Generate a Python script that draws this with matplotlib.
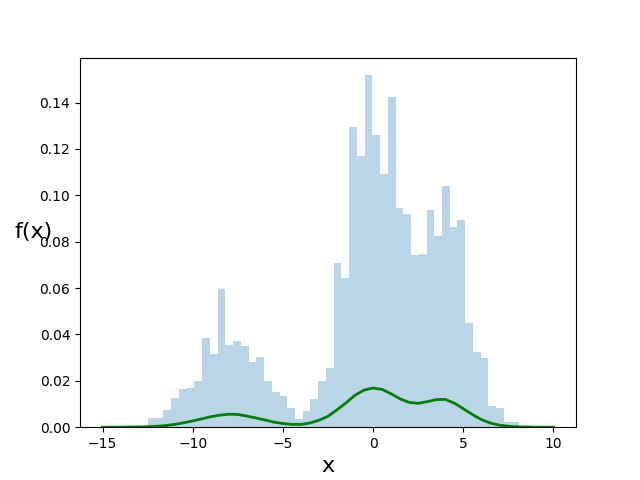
import numpy as np
import matplotlib
matplotlib.use("Agg")
import matplotlib.pyplot as plt


# Высоты столбцов гистограммы (плотность), 48 интервалов от -12.48 до 8.11
bin_lo = -12.48
bin_hi = 8.11
hist_heights = [
    0.0040, 0.0040, 0.0074, 0.0126, 0.0165, 0.0169, 0.0199, 0.0386,
    0.0316, 0.0594, 0.0355, 0.0373, 0.0351, 0.0282, 0.0303, 0.0199,
    0.0152, 0.0134, 0.0082, 0.0035, 0.0069, 0.0121, 0.0199, 0.0256,
    0.0707, 0.0642, 0.1296, 0.1170, 0.1518, 0.1261, 0.1092, 0.1422,
    0.0945, 0.0919, 0.0741, 0.0746, 0.0936, 0.0824, 0.1040, 0.0863,
    0.0893, 0.0451, 0.0325, 0.0299, 0.0091, 0.0082, 0.0022, 0.0022,
]

# Зелёная кривая f(x), шаг 0.5 от -15 до 10
curve_x = [
    -15, -14.5, -14, -13.5, -13, -12.5, -12, -11.5, -11, -10.5,
    -10, -9.5, -9, -8.5, -8, -7.5, -7, -6.5, -6, -5.5,
    -5, -4.5, -4, -3.5, -3, -2.5, -2, -1.5, -1, -0.5,
    0, 0.5, 1, 1.5, 2, 2.5, 3, 3.5, 4, 4.5,
    5, 5.5, 6, 6.5, 7, 7.5, 8, 8.5, 9, 9.5, 10,
]
curve_y = [
    0.0000, 0.0000, 0.0000, 0.0001, 0.0001, 0.0002, 0.0004, 0.0007, 0.0012, 0.0019,
    0.0027, 0.0036, 0.0045, 0.0052, 0.0056, 0.0055, 0.0048, 0.0040, 0.0031, 0.0022,
    0.0016, 0.0012, 0.0012, 0.0018, 0.0030, 0.0047, 0.0075, 0.0105, 0.0138, 0.0160,
    0.0169, 0.0163, 0.0144, 0.0122, 0.0107, 0.0103, 0.0110, 0.0119, 0.0120, 0.0104,
    0.0080, 0.0055, 0.0033, 0.0018, 0.0009, 0.0004, 0.0002, 0.0001, 0.0000, 0.0000, 0.0000,
]


def plot_density():
    edges = np.linspace(bin_lo, bin_hi, len(hist_heights) + 1)
    fig, ax = plt.subplots(figsize=(6.4, 4.8), dpi=100)
    ax.hist(edges[:-1], bins=edges, weights=hist_heights, alpha=0.3)
    ax.plot(curve_x, curve_y, color="green", linewidth=2)
    ax.set_xlabel("x", fontsize=16)
    ax.set_ylabel("f(x)", fontsize=16, rotation=0)
    fig.savefig("out.png")


if __name__ == "__main__":
    plot_density()
